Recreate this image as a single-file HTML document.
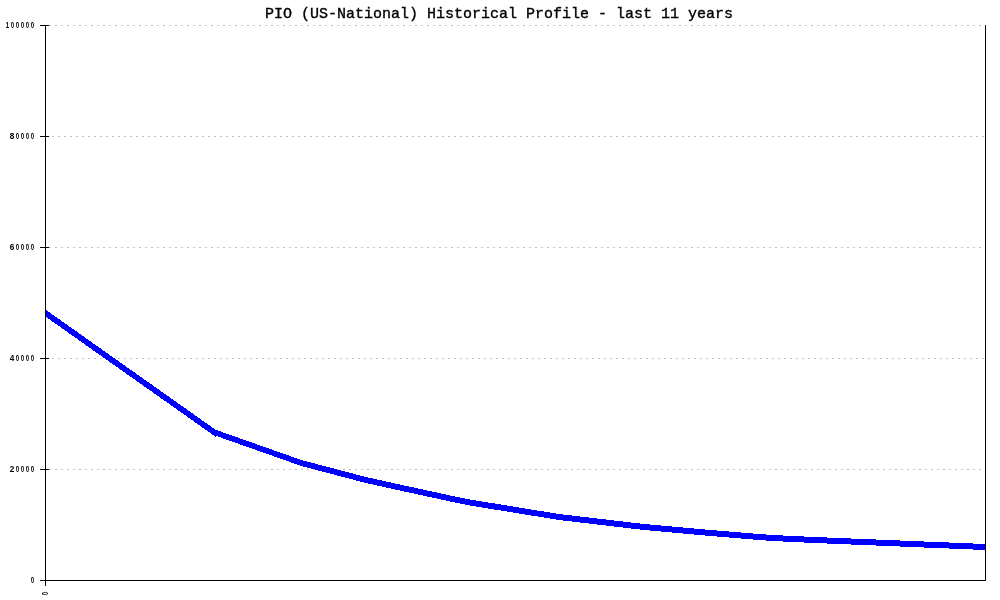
<!DOCTYPE html>
<html><head><meta charset="utf-8"><title>PIO (US-National) Historical Profile - last 11 years</title>
<style>
html,body{margin:0;padding:0;background:#fff;}
body{width:1000px;height:600px;overflow:hidden;}
svg{display:block;}
.title{font-family:"Liberation Mono","DejaVu Sans Mono",monospace;font-weight:normal;font-size:15px;fill:#000;stroke:#000;stroke-width:0.35px;}
.lab text{font-family:"Liberation Sans","DejaVu Sans",sans-serif;font-weight:bold;font-size:8.7px;fill:#000;}
</style></head>
<body>
<svg width="1000" height="600" viewBox="0 0 1000 600">
<rect x="0" y="0" width="1000" height="600" fill="#ffffff"/>
<g stroke="#c0c0c0" stroke-width="1" stroke-dasharray="2 4" shape-rendering="crispEdges" fill="none">
<line x1="49" y1="25.5" x2="985" y2="25.5"/>
<line x1="52" y1="136.5" x2="985" y2="136.5"/>
<line x1="49" y1="247.5" x2="985" y2="247.5"/>
<line x1="52" y1="358.5" x2="985" y2="358.5"/>
<line x1="49" y1="469.5" x2="985" y2="469.5"/>
</g>
<g fill="#0000ff" shape-rendering="crispEdges">
<polygon points="45.50,309.60 215.50,429.70 215.50,436.70 45.50,316.60"/>
<polygon points="215.50,429.70 301.40,460.00 301.40,466.00 215.50,435.70"/>
<polygon points="301.40,460.00 366.00,477.00 366.00,483.00 301.40,466.00"/>
<polygon points="366.00,477.00 388.00,481.95 388.00,487.95 366.00,483.00"/>
<polygon points="388.00,481.95 462.00,498.00 462.00,504.00 388.00,487.95"/>
<polygon points="462.00,498.00 473.00,500.00 473.00,506.00 462.00,504.00"/>
<polygon points="473.00,500.00 559.00,514.00 559.00,520.00 473.00,506.00"/>
<polygon points="559.00,514.00 644.00,524.00 644.00,530.00 559.00,520.00"/>
<polygon points="644.00,524.00 711.00,530.00 711.00,536.00 644.00,530.00"/>
<polygon points="711.00,530.00 759.00,534.00 759.00,540.00 711.00,536.00"/>
<polygon points="759.00,534.00 773.50,535.00 773.50,541.00 759.00,540.00"/>
<polygon points="773.50,535.00 793.00,536.00 793.00,542.00 773.50,541.00"/>
<polygon points="793.00,536.00 815.50,537.00 815.50,543.00 793.00,542.00"/>
<polygon points="815.50,537.00 839.00,538.00 839.00,544.00 815.50,543.00"/>
<polygon points="839.00,538.00 863.50,539.00 863.50,545.00 839.00,544.00"/>
<polygon points="863.50,539.00 888.00,540.00 888.00,546.00 863.50,545.00"/>
<polygon points="888.00,540.00 912.00,541.00 912.00,547.00 888.00,546.00"/>
<polygon points="912.00,541.00 936.50,542.00 936.50,548.00 912.00,547.00"/>
<polygon points="936.50,542.00 961.00,543.00 961.00,549.00 936.50,548.00"/>
<polygon points="961.00,543.00 985.50,544.00 985.50,550.00 961.00,549.00"/>
</g>
<g fill="#000" shape-rendering="crispEdges">
<rect x="45" y="25" width="1" height="561"/>
<rect x="985" y="25" width="1" height="556"/>
<rect x="40" y="580" width="946" height="1"/>
<rect x="40" y="25" width="9" height="1"/>
<rect x="40" y="136" width="9" height="1"/>
<rect x="40" y="247" width="9" height="1"/>
<rect x="40" y="358" width="9" height="1"/>
<rect x="40" y="469" width="9" height="1"/>
<rect x="40" y="580" width="9" height="1"/>
</g>
<text class="title" x="265" y="18" textLength="468" lengthAdjust="spacing" xml:space="preserve">PIO (US-National) Historical Profile - last 11 years</text>
<g class="lab">
<text transform="translate(5.78,28.0) scale(0.687,1)" y="0"><tspan x="0.000 7.278 14.556 21.834 29.112 36.390">100000</tspan></text>
<text transform="translate(10.78,139.0) scale(0.687,1)" y="0"><tspan x="-1.5" textLength="6.69" lengthAdjust="spacingAndGlyphs">8</tspan><tspan x="7.278 14.556 21.834 29.112">0000</tspan></text>
<text transform="translate(10.78,250.0) scale(0.687,1)" y="0"><tspan x="-1.5" textLength="6.69" lengthAdjust="spacingAndGlyphs">6</tspan><tspan x="7.278 14.556 21.834 29.112">0000</tspan></text>
<text transform="translate(10.78,361.0) scale(0.687,1)" y="0"><tspan x="-1.5" textLength="6.69" lengthAdjust="spacingAndGlyphs">4</tspan><tspan x="7.278 14.556 21.834 29.112">0000</tspan></text>
<text transform="translate(10.78,472.0) scale(0.687,1)" y="0"><tspan x="-1.5" textLength="6.69" lengthAdjust="spacingAndGlyphs">2</tspan><tspan x="7.278 14.556 21.834 29.112">0000</tspan></text>
<text transform="translate(30.78,583.0) scale(0.687,1)" y="0"><tspan x="0.000">0</tspan></text>
<text transform="translate(47.9,595.22) rotate(-90) scale(0.687,1)" x="0" y="0">0</text>
</g>
</svg>
</body></html>
